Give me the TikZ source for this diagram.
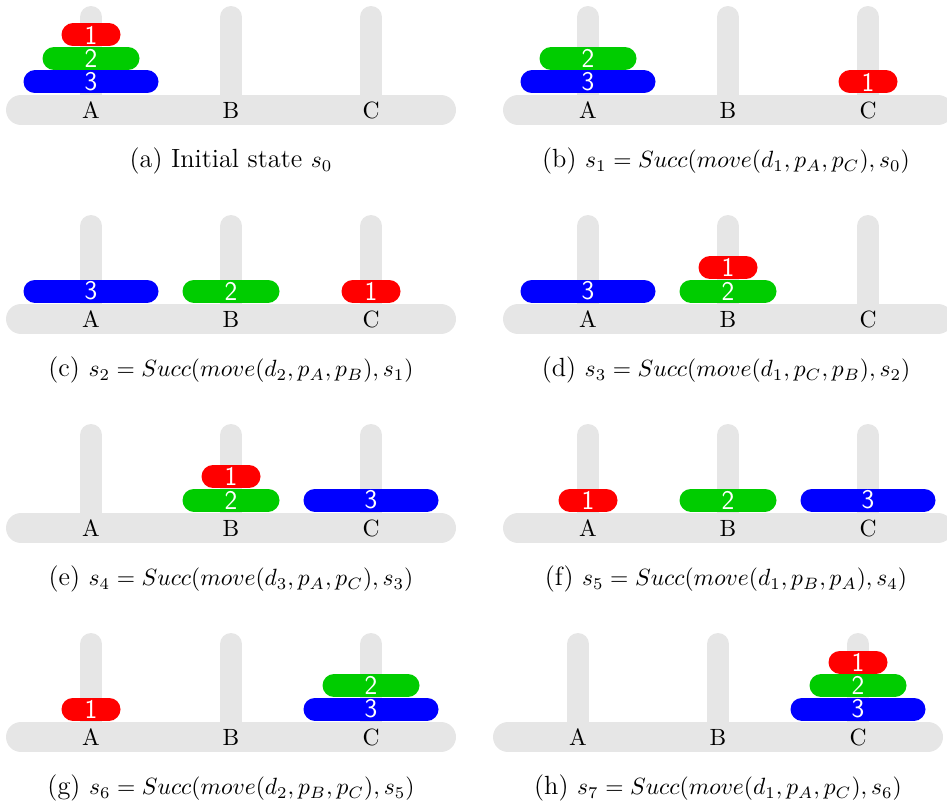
\documentclass[tikz,border=0pt]{standalone}
\usepackage{fix-cm}
\definecolor{pegc}{HTML}{E6E6E6}
\definecolor{dred}{HTML}{FF0000}
\definecolor{dgreen}{HTML}{00CC00}
\definecolor{dblue}{HTML}{0000FF}
\tikzset{
  basebar/.style={line width=30pt, line cap=round, draw=pegc},
  pegbar/.style={line width=22pt, line cap=round, draw=pegc},
  diskbar/.style={line width=23pt, line cap=round},
  disknum/.style={text=white, font=\fontsize{27}{29}\sffamily\selectfont, inner sep=0pt},
  peglabel/.style={font=\fontsize{10}{12}\selectfont, inner sep=0pt, scale=2.35},
  captext/.style={font=\fontsize{10}{12}\selectfont, anchor=base, inner sep=0pt, scale=2.35},
}
\newcommand\hboard[3]{% #1 x of peg A, #2 base centre y, #3 name prefix
  \draw[basebar] (#1-70,#2) -- (#1+350,#2);
  \foreach \i/\L in {0/A,1/B,2/C} {
    \draw[pegbar] (#1+140*\i,#2) -- (#1+140*\i,#2-93);
    \node[peglabel] (#3\L) at (#1+140*\i,#2) {\L};
  }
}
\newcommand\hdisk[4]{% #1 x, #2 y, #3 disk number, #4 name
  \ifcase#3\or\def\dhl{18}\def\dcol{dred}\or\def\dhl{37}\def\dcol{dgreen}\or\def\dhl{56}\def\dcol{dblue}\fi
  \draw[diskbar, draw=\dcol] (#1-\dhl,#2) -- (#1+\dhl,#2);
  \node[disknum] (#4) at (#1,#2) {#3};
}
\newcommand\hcap[3]{{\fontsize{11.2}{13}\selectfont(#1) #2}{\fontsize{10}{12}\selectfont$#3$}}
\begin{document}
\begin{tikzpicture}[x=1pt,y=-1pt]
\useasboundingbox (0,0) rectangle (947,805);
\clip (0,0) rectangle (947,805);
% (a)
\hboard{91}{110}{pa}
\hdisk{91}{110-28}{3}{a3}
\hdisk{91}{110-51.5}{2}{a2}
\hdisk{91}{110-75}{1}{a1}
\node[captext] (capa) at (231,110+57.5) {\hcap{a}{Initial state }{s_0}};
% (b)
\hboard{588}{110}{pb}
\hdisk{588}{110-28}{3}{b3}
\hdisk{588}{110-51.5}{2}{b2}
\hdisk{868}{110-28}{1}{b1}
\node[captext] (capb) at (726,110+57.5) {\hcap{b}{}{s_1 = Succ(move(d_1, p_A, p_C), s_0)}};
% (c)
\hboard{91}{319}{pc}
\hdisk{91}{319-28}{3}{c3}
\hdisk{231}{319-28}{2}{c2}
\hdisk{371}{319-28}{1}{c1}
\node[captext] (capc) at (231,319+57.5) {\hcap{c}{}{s_2 = Succ(move(d_2, p_A, p_B), s_1)}};
% (d)
\hboard{588}{319}{pd}
\hdisk{588}{319-28}{3}{d3}
\hdisk{728}{319-28}{2}{d2}
\hdisk{728}{319-51.5}{1}{d1}
\node[captext] (capd) at (726,319+57.5) {\hcap{d}{}{s_3 = Succ(move(d_1, p_C, p_B), s_2)}};
% (e)
\hboard{91}{528}{pe}
\hdisk{231}{528-28}{2}{e2}
\hdisk{231}{528-51.5}{1}{e1}
\hdisk{371}{528-28}{3}{e3}
\node[captext] (cape) at (231,528+57.5) {\hcap{e}{}{s_4 = Succ(move(d_3, p_A, p_C), s_3)}};
% (f)
\hboard{588}{528}{pf}
\hdisk{588}{528-28}{1}{f1}
\hdisk{728}{528-28}{2}{f2}
\hdisk{868}{528-28}{3}{f3}
\node[captext] (capf) at (726,528+57.5) {\hcap{f}{}{s_5 = Succ(move(d_1, p_B, p_A), s_4)}};
% (g)
\hboard{91}{737}{pg}
\hdisk{91}{737-28}{1}{g1}
\hdisk{371}{737-28}{3}{g3}
\hdisk{371}{737-51.5}{2}{g2}
\node[captext] (capg) at (231,737+57.5) {\hcap{g}{}{s_6 = Succ(move(d_2, p_B, p_C), s_5)}};
% (h)
\hboard{578}{737}{ph}
\hdisk{858}{737-28}{3}{h3}
\hdisk{858}{737-51.5}{2}{h2}
\hdisk{858}{737-75}{1}{h1}
\node[captext] (caph) at (718,737+57.5) {\hcap{h}{}{s_7 = Succ(move(d_1, p_A, p_C), s_6)}};
\end{tikzpicture}
\end{document}
